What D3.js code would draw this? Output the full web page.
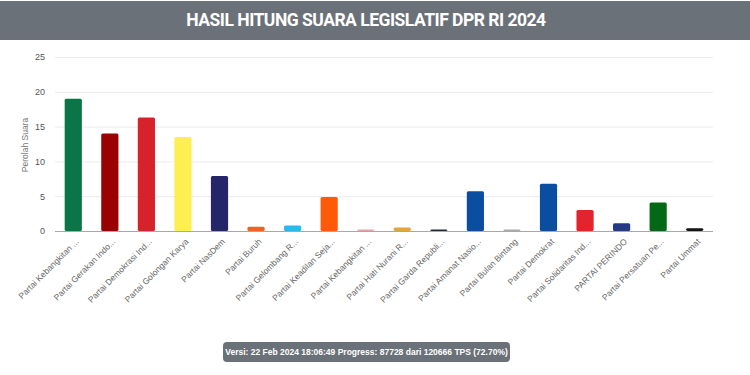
<!DOCTYPE html>
<html>
<head>
<meta charset="utf-8">
<script src="https://cdn.jsdelivr.net/npm/d3@7"></script>
<style>
  body { margin: 0; background: #ffffff; }
  svg { display: block; font-family: "Liberation Sans", Arial, sans-serif; }
</style>
</head>
<body>
<div id="chart"></div>
<script>
let parties = [
  "Partai Kebangkitan ...", "Partai Gerakan Indo...", "Partai Demokrasi Ind...",
  "Partai Golongan Karya", "Partai NasDem", "Partai Buruh",
  "Partai Gelombang R...", "Partai Keadilan Seja...", "Partai Kebangkitan ...",
  "Partai Hati Nurani R...", "Partai Garda Republi...", "Partai Amanat Nasio...",
  "Partai Bulan Bintang", "Partai Demokrat", "Partai Solidaritas Ind...",
  "PARTAI PERINDO", "Partai Persatuan Pe...", "Partai Ummat"
];
let votes = [19.0, 14.0, 16.3, 13.5, 7.9, 0.6, 0.8, 4.9, 0.2, 0.5, 0.2, 5.7, 0.2, 6.8, 3.0, 1.1, 4.1, 0.4];
let colors = [
  "#0a7547", "#9a0202", "#d7222b", "#fdee52", "#25266a", "#ea6424",
  "#2bb9ec", "#ff5a05", "#eba3a3", "#e3a63a", "#1f2b3b", "#0a4da1",
  "#a9a9a9", "#0a4da1", "#e3242d", "#243a85", "#056816", "#141414"
];
let yTicks = [0, 5, 10, 15, 20, 25];

let title = "HASIL HITUNG SUARA LEGISLATIF DPR RI 2024";
let footer = "Versi: 22 Feb 2024 18:06:49 Progress: 87728 dari 120666 TPS (72.70%)";

let width = 750;
let height = 375;
let margin = {top: 57, right: 37, bottom: 144, left: 55};

let svg = d3.select("#chart").append("svg")
  .attr("width", width)
  .attr("height", height);

// title bar
svg.append("rect")
  .attr("x", 0).attr("y", 1)
  .attr("width", width).attr("height", 39)
  .attr("fill", "#6b7179");

svg.append("text")
  .attr("x", 366)
  .attr("y", 26)
  .attr("fill", "#ffffff")
  .attr("text-anchor", "middle")
  .attr("font-size", "17.5")
  .attr("font-weight", "bold")
  .attr("letter-spacing", "-0.5")
  .attr("font-family", "Roboto, sans-serif")
  .text(title);

let x = d3.scaleBand()
  .domain(parties.map((d, i) => i))
  .range([margin.left, width - margin.right])
  .paddingInner(0.53)
  .paddingOuter(0.265);

let y = d3.scaleLinear()
  .domain([0, 25])
  .range([height - margin.bottom, margin.top]);

// grid
let yAxis = svg.append("g")
  .attr("transform", "translate(" + margin.left + ",0)")
  .call(d3.axisLeft(y).tickValues(yTicks).tickSize(-(width - margin.left - margin.right)).tickPadding(10));

yAxis.select(".domain").remove();
yAxis.selectAll(".tick line")
  .attr("stroke", d => d === 0 ? "#a8a8a8" : "#ececec")
  .attr("stroke-width", d => d === 0 ? 1.2 : 1);
yAxis.selectAll(".tick text")
  .attr("fill", "#555")
  .attr("font-size", "9");

// bars
svg.append("g").selectAll("rect")
  .data(votes)
  .join("rect")
  .attr("x", (d, i) => x(i))
  .attr("y", d => y(d))
  .attr("width", x.bandwidth())
  .attr("height", d => y(0) - y(d))
  .attr("rx", 1.5)
  .attr("fill", (d, i) => colors[i]);

// x labels
let xAxis = svg.append("g")
  .attr("transform", "translate(0," + y(0) + ")")
  .call(d3.axisBottom(x).tickFormat(i => parties[i]).tickSize(0));

xAxis.select(".domain").remove();
xAxis.selectAll(".tick text")
  .attr("fill", "#666")
  .attr("font-size", "8.5")
  .attr("text-anchor", "end")
  .attr("dy", 0)
  .attr("transform", "translate(4,9) rotate(-45)");

// y axis title
svg.append("text")
  .attr("transform", "translate(28,145) rotate(-90)")
  .attr("text-anchor", "middle")
  .attr("fill", "#777")
  .attr("font-size", "8.5")
  .text("Perolah Suara");

// footer pill
let pill = svg.append("g");
pill.append("rect")
  .attr("x", 223).attr("y", 342)
  .attr("width", 287).attr("height", 20)
  .attr("rx", 4)
  .attr("fill", "#6b7179");
pill.append("text")
  .attr("x", 366.5).attr("y", 355)
  .attr("text-anchor", "middle")
  .attr("fill", "#ffffff")
  .attr("font-size", "8.5")
  .attr("font-weight", "bold")
  .text(footer);
</script>
</body>
</html>
